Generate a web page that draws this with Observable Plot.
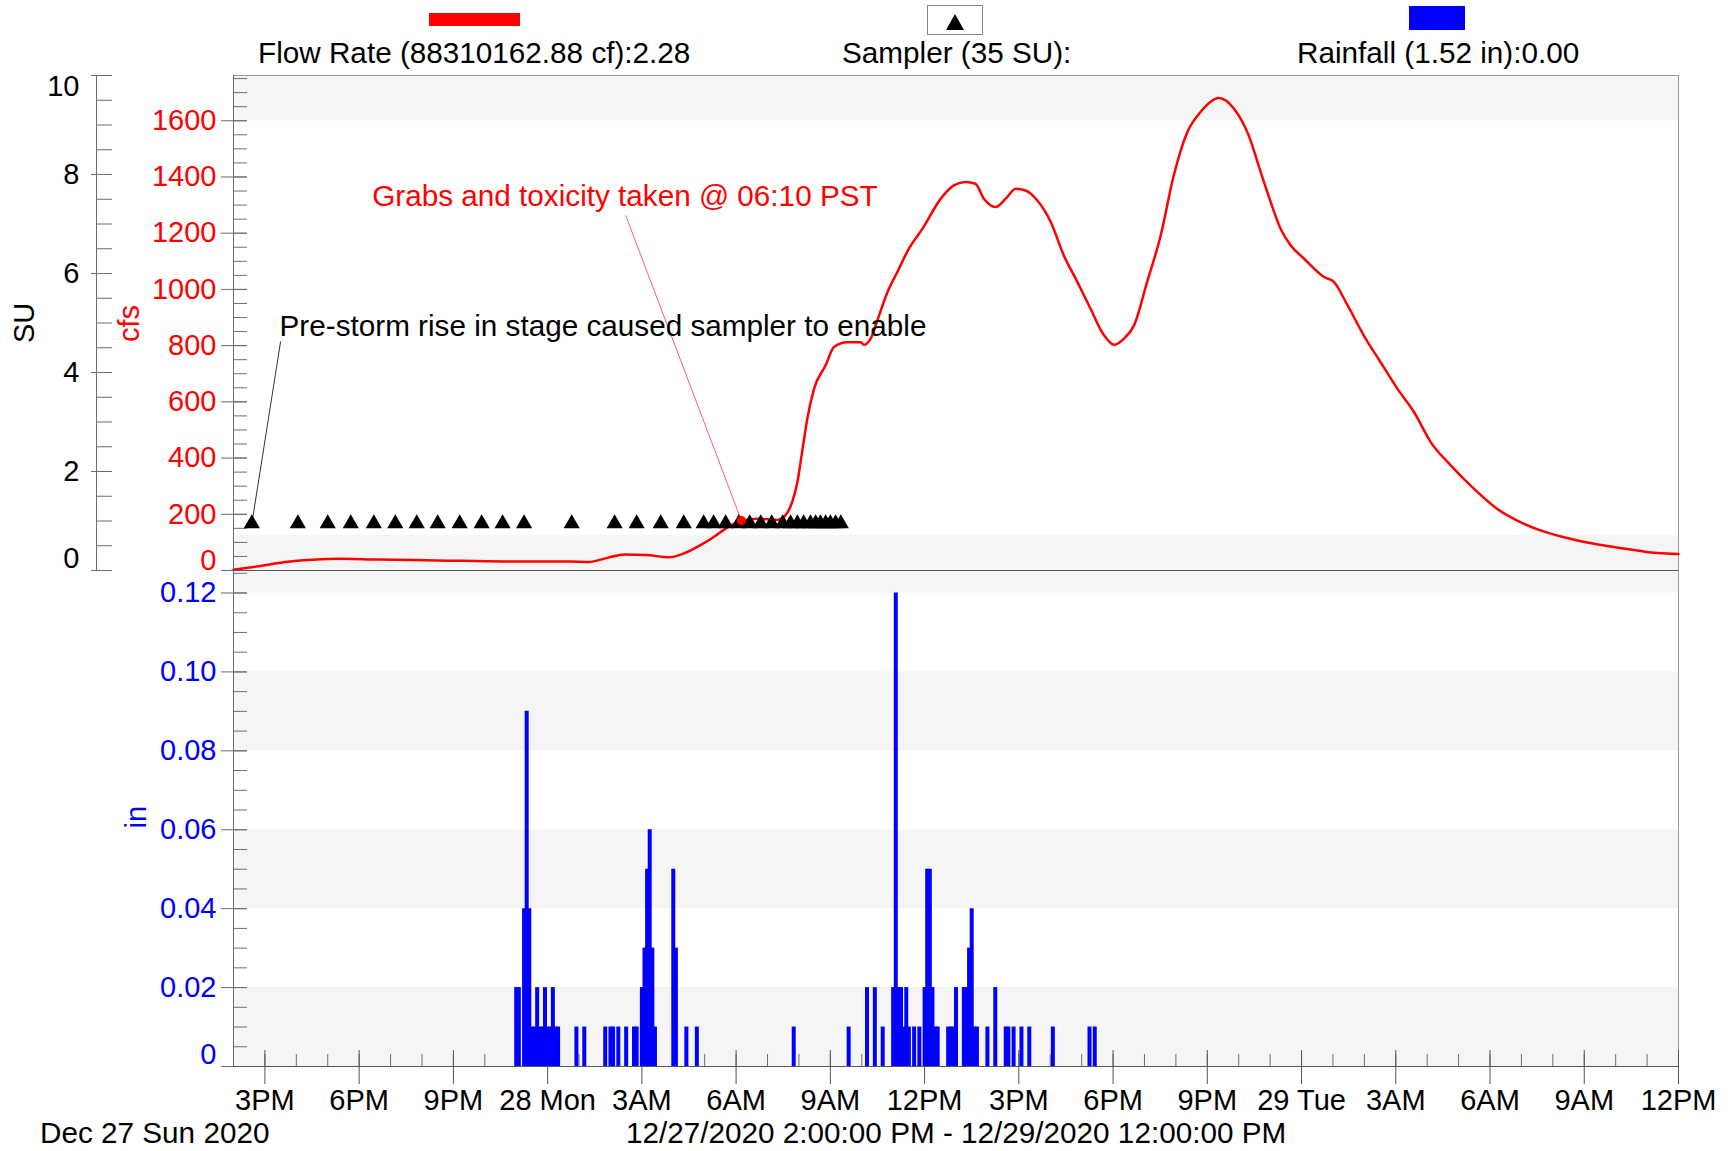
<!DOCTYPE html>
<html><head><meta charset="utf-8">
<script src="https://cdn.jsdelivr.net/npm/d3@7"></script>
<script src="https://cdn.jsdelivr.net/npm/@observablehq/plot@0.6"></script>
<style>
body{margin:0;background:#fff;font-family:"Liberation Sans",Arial,sans-serif;}
#wrap{position:relative;width:1734px;height:1151px;overflow:hidden;background:#fff;}
.t{position:absolute;font-size:29.7px;line-height:1;white-space:nowrap;color:#000;}
.pane{position:absolute;left:0;}
</style></head><body><div id="wrap"></div>
<script>
// ---------- data ----------
const flowTimes = ["2020-12-27T14:00","2020-12-27T14:48","2020-12-27T15:39","2020-12-27T16:30","2020-12-27T17:20","2020-12-27T18:36","2020-12-27T20:30","2020-12-27T22:36",
"2020-12-28T00:42","2020-12-28T01:18","2020-12-28T01:54","2020-12-28T02:27","2020-12-28T03:09","2020-12-28T03:52","2020-12-28T04:18","2020-12-28T04:52","2020-12-28T05:18","2020-12-28T05:39",
"2020-12-28T06:08","2020-12-28T06:40","2020-12-28T07:19","2020-12-28T07:34","2020-12-28T07:47","2020-12-28T07:57","2020-12-28T08:06","2020-12-28T08:16","2020-12-28T08:29","2020-12-28T08:51",
"2020-12-28T09:07","2020-12-28T09:32","2020-12-28T09:58","2020-12-28T10:04","2020-12-28T10:17","2020-12-28T10:33","2020-12-28T10:49","2020-12-28T11:08","2020-12-28T11:30","2020-12-28T11:56",
"2020-12-28T12:31","2020-12-28T12:56","2020-12-28T13:18","2020-12-28T13:37","2020-12-28T13:53","2020-12-28T14:16","2020-12-28T14:35","2020-12-28T14:54","2020-12-28T15:13","2020-12-28T15:35",
"2020-12-28T16:01","2020-12-28T16:26","2020-12-28T16:52","2020-12-28T17:17","2020-12-28T17:43","2020-12-28T18:02","2020-12-28T18:21","2020-12-28T18:40","2020-12-28T19:05","2020-12-28T19:31",
"2020-12-28T19:56","2020-12-28T20:22","2020-12-28T20:47","2020-12-28T21:22","2020-12-28T21:51","2020-12-28T22:19","2020-12-28T22:42","2020-12-28T23:01","2020-12-28T23:20","2020-12-28T23:39",
"2020-12-29T00:05","2020-12-29T00:43","2020-12-29T01:02","2020-12-29T01:28","2020-12-29T01:59","2020-12-29T02:31","2020-12-29T03:03","2020-12-29T03:35","2020-12-29T04:07","2020-12-29T04:45",
"2020-12-29T05:23","2020-12-29T06:14","2020-12-29T07:05","2020-12-29T07:56","2020-12-29T08:47","2020-12-29T09:44","2020-12-29T10:41","2020-12-29T11:19","2020-12-29T12:00"];
const flowCfs = [3,15,30,38,42,39,36,32,
32,30,45,57,55,47,59,90,120,148,
175,184,180,196,243,314,421,540,647,730,
795,812,812,803,825,907,990,1062,1145,1216,
1323,1370,1382,1376,1323,1293,1323,1358,1352,1317,
1240,1121,1026,931,836,803,825,872,1026,1192,
1406,1560,1631,1681,1643,1548,1417,1311,1216,1157,
1109,1044,1026,943,836,741,647,563,456,374,
302,219,166,131,107,87,71,62,59];

const samplerTimes = ["2020-12-27T14:35","2020-12-27T16:03","2020-12-27T17:00","2020-12-27T17:44","2020-12-27T18:28","2020-12-27T19:09","2020-12-27T19:50","2020-12-27T20:30","2020-12-27T21:12","2020-12-27T21:54","2020-12-27T22:34","2020-12-27T23:15",
"2020-12-28T00:46","2020-12-28T02:08","2020-12-28T02:50","2020-12-28T03:36","2020-12-28T04:20","2020-12-28T04:58","2020-12-28T05:17","2020-12-28T05:40","2020-12-28T06:05","2020-12-28T06:26","2020-12-28T06:47","2020-12-28T07:08",
"2020-12-28T07:29","2020-12-28T07:44","2020-12-28T07:57","2020-12-28T08:09","2020-12-28T08:22","2020-12-28T08:32","2020-12-28T08:41","2020-12-28T08:51","2020-12-28T09:00","2020-12-28T09:10","2020-12-28T09:20"];
const samplerSU = [1,1,1,1,1,1,1,1,1,1,1,1,1,1,1,1,1,1,1,1,1,1,1,1,1,1,1,1,1,1,1,1,1,1,1];

const rainTimes = ["2020-12-27T23:00","2020-12-27T23:05","2020-12-27T23:15","2020-12-27T23:20","2020-12-27T23:25","2020-12-27T23:30","2020-12-27T23:35","2020-12-27T23:40","2020-12-27T23:45","2020-12-27T23:50","2020-12-27T23:55",
"2020-12-28T00:00","2020-12-28T00:05","2020-12-28T00:10","2020-12-28T00:15","2020-12-28T00:20","2020-12-28T00:55","2020-12-28T01:10","2020-12-28T01:50","2020-12-28T02:00","2020-12-28T02:05","2020-12-28T02:15","2020-12-28T02:30","2020-12-28T02:45","2020-12-28T02:50",
"2020-12-28T03:00","2020-12-28T03:05","2020-12-28T03:10","2020-12-28T03:15","2020-12-28T03:20","2020-12-28T03:25","2020-12-28T04:00","2020-12-28T04:05","2020-12-28T04:25","2020-12-28T04:45","2020-12-28T07:50","2020-12-28T09:35",
"2020-12-28T10:10","2020-12-28T10:25","2020-12-28T10:40","2020-12-28T11:00","2020-12-28T11:05","2020-12-28T11:10","2020-12-28T11:15","2020-12-28T11:20","2020-12-28T11:25","2020-12-28T11:30","2020-12-28T11:40","2020-12-28T11:50",
"2020-12-28T12:00","2020-12-28T12:05","2020-12-28T12:10","2020-12-28T12:15","2020-12-28T12:20","2020-12-28T12:25","2020-12-28T12:45","2020-12-28T12:50","2020-12-28T12:55","2020-12-28T13:00","2020-12-28T13:15","2020-12-28T13:20",
"2020-12-28T13:25","2020-12-28T13:30","2020-12-28T13:35","2020-12-28T13:40","2020-12-28T14:00","2020-12-28T14:15","2020-12-28T14:35","2020-12-28T14:40","2020-12-28T14:50","2020-12-28T15:05","2020-12-28T15:20","2020-12-28T16:05","2020-12-28T17:15","2020-12-28T17:25"];
const rainIn = [0.02,0.02,0.04,0.09,0.04,0.01,0.01,0.02,0.01,0.01,0.02,
0.01,0.01,0.02,0.01,0.01,0.01,0.01,0.01,0.01,0.01,0.01,0.01,0.01,0.01,
0.02,0.03,0.05,0.06,0.03,0.01,0.05,0.03,0.01,0.01,0.01,0.01,
0.02,0.02,0.01,0.02,0.12,0.02,0.02,0.01,0.02,0.01,0.01,0.01,
0.02,0.05,0.05,0.02,0.01,0.01,0.01,0.01,0.01,0.02,0.02,0.02,
0.03,0.04,0.01,0.01,0.01,0.02,0.01,0.01,0.01,0.01,0.01,0.01,0.01,0.01];

const grabTimes = ["2020-12-28T06:10"];
const grabCfs = [178];

const noteTexts = ["Grabs and toxicity taken @ 06:10 PST", "Pre-storm rise in stage caused sampler to enable"];
const noteTimes = ["2020-12-27T18:25", "2020-12-27T15:28"];
const noteCfs = [1331, 868];
const leaderFrom = [["2020-12-28T02:29", 1264], ["2020-12-27T15:30", 815]];
const leaderTo = [["2020-12-28T06:10", 178], ["2020-12-27T14:37", 190]];

const cfsTicks = [0,200,400,600,800,1000,1200,1400,1600];
const suTicks = [0,2,4,6,8,10];
const inTicks = [0,0.02,0.04,0.06,0.08,0.10,0.12];
const xTickTimes = ["2020-12-27T15:00","2020-12-27T18:00","2020-12-27T21:00","2020-12-28T00:00","2020-12-28T03:00","2020-12-28T06:00","2020-12-28T09:00","2020-12-28T12:00",
"2020-12-28T15:00","2020-12-28T18:00","2020-12-28T21:00","2020-12-29T00:00","2020-12-29T03:00","2020-12-29T06:00","2020-12-29T09:00","2020-12-29T12:00"];
const xTickLabels = ["3PM","6PM","9PM","28 Mon","3AM","6AM","9AM","12PM","3PM","6PM","9PM","29 Tue","3AM","6AM","9AM","12PM"];

const legendItems = ["Flow Rate (88310162.88 cf):2.28", "Sampler (35 SU):", "Rainfall (1.52 in):0.00"];
const dateLabel = "Dec 27 Sun 2020";
const rangeLabel = "12/27/2020 2:00:00 PM - 12/29/2020 12:00:00 PM";

// ---------- setup ----------
const T = s => new Date(s);
const tStart = T("2020-12-27T14:00"), tEnd = T("2020-12-29T12:00");
const CFS_MAX = 1761, SU_MAX = 10, IN_MAX = 0.1257;
const su2cfs = v => v * CFS_MAX / SU_MAX;
const FW = 1678 - 233;
const RED = "#ff0000", BLUE = "#0000ff", AX = "#6e6e6e";
const FONT = '"Liberation Sans", Arial, sans-serif';

const flow = flowTimes.map((t, i) => ({t: T(t), v: flowCfs[i]}));
const sampler = samplerTimes.map((t, i) => ({t: T(t), v: samplerSU[i]}));
const rain = rainTimes.map((t, i) => ({t: T(t), v: rainIn[i]}));
const grabs = grabTimes.map((t, i) => ({t: T(t), v: grabCfs[i]}));
const notes = noteTexts.map((s, i) => ({text: s, t: T(noteTimes[i]), v: noteCfs[i]}));
const leaders = leaderFrom.map((f, i) => ({t1: T(f[0]), v1: f[1], t2: T(leaderTo[i][0]), v2: leaderTo[i][1]}));
const xTicks = xTickTimes.map((t, i) => ({t: T(t), label: xTickLabels[i]}));
const hourTicks = d3.timeHour.range(tStart, d3.timeHour.offset(tEnd, 1));

const cfsMinor = d3.range(0, CFS_MAX, 50);
const suMinor = d3.range(0, 10.01, 0.5);
const inMinor = d3.range(0, IN_MAX, 0.005);

const style = {fontFamily: FONT, fontSize: "29px", background: "transparent", overflow: "visible"};
const xScale = {type: "time", domain: [tStart, tEnd], axis: null};
const full = {x1: () => tStart, x2: () => tEnd};

const topBands = [[0, 125], [1600, CFS_MAX]];
const botBands = [[0, 0.02], [0.04, 0.06], [0.08, 0.10], [0.12, IN_MAX]];

const topPlot = Plot.plot({
  width: 1734, height: 495, marginTop: 0, marginBottom: 0, marginLeft: 233, marginRight: 56,
  style, x: xScale, y: {domain: [0, CFS_MAX], axis: null},
  marks: [
    Plot.rect(topBands, {...full, y1: d => d[0], y2: d => d[1], fill: "#f5f5f5"}),
    Plot.ruleY([CFS_MAX], {stroke: "#999"}),
    Plot.ruleX([tEnd], {stroke: "#999"}),
    Plot.ruleX([tStart], {stroke: AX}),
    Plot.ruleX([tStart], {dx: -137, stroke: AX}),
    Plot.tickY(cfsMinor, {y: d => d, insetRight: FW - 14, stroke: AX}),
    Plot.tickY(cfsTicks, {y: d => d, insetLeft: -12, insetRight: FW - 14, stroke: AX}),
    Plot.tickY(suMinor.map(su2cfs), {y: d => d, dx: -137, insetRight: FW - 16, stroke: AX}),
    Plot.tickY(suTicks.map(su2cfs), {y: d => d, dx: -137, insetLeft: -5, insetRight: FW - 16, stroke: AX}),
    Plot.text(cfsTicks.filter(d => d > 0), {y: d => d, text: d => String(d), frameAnchor: "left", textAnchor: "end", dx: -17, fill: RED}),
    Plot.text(cfsTicks.filter(d => d === 0), {y: d => d, text: d => String(d), frameAnchor: "left", textAnchor: "end", dx: -17, dy: -10, fill: RED}),
    Plot.text(suTicks.filter(d => d > 0 && d < 10), {y: d => su2cfs(d), text: d => String(d), frameAnchor: "left", textAnchor: "end", dx: -154, fill: "#000"}),
    Plot.text(suTicks.filter(d => d === 10), {y: d => su2cfs(d), text: d => String(d), frameAnchor: "left", textAnchor: "end", dx: -154, dy: 11, fill: "#000"}),
    Plot.text(suTicks.filter(d => d === 0), {y: d => su2cfs(d), text: d => String(d), frameAnchor: "left", textAnchor: "end", dx: -154, dy: -12, fill: "#000"}),
    Plot.text(["SU"], {frameAnchor: "left", dx: -209, dy: 20, rotate: -90, fill: "#000"}),
    Plot.text(["cfs"], {frameAnchor: "left", dx: -104, dy: 19, rotate: -90, fill: RED}),
    Plot.line(flow, {x: "t", y: "v", stroke: RED, strokeWidth: 2.5, curve: "monotone-x"}),
    Plot.link(leaders.slice(0, 1), {x1: "t1", y1: "v1", x2: "t2", y2: "v2", stroke: "#ff5a7a", strokeWidth: 1}),
    Plot.link(leaders.slice(1, 2), {x1: "t1", y1: "v1", x2: "t2", y2: "v2", stroke: "#333", strokeWidth: 1}),
    Plot.dot(sampler, {x: "t", y: d => su2cfs(d.v), symbol: "triangle", r: 6, fill: "#000", dy: 2.5}),
    Plot.dot(grabs, {x: "t", y: "v", r: 4.5, fill: RED}),
    Plot.text(notes.slice(0, 1), {x: "t", y: "v", text: "text", textAnchor: "start", fill: RED, fontSize: 29.7}),
    Plot.text(notes.slice(1, 2), {x: "t", y: "v", text: "text", textAnchor: "start", fill: "#000", fontSize: 29.7})
  ]
});

const FH = 496;
const botPlot = Plot.plot({
  width: 1734, height: 581, marginTop: 0, marginBottom: 85, marginLeft: 233, marginRight: 56,
  style, x: xScale, y: {domain: [0, IN_MAX], axis: null},
  marks: [
    Plot.rect(botBands, {...full, y1: d => d[0], y2: d => d[1], fill: "#f5f5f5"}),
    Plot.ruleX([tEnd], {stroke: "#999"}),
    Plot.ruleX([tStart], {stroke: AX}),
    Plot.tickY(inMinor, {y: d => d, insetRight: FW - 14, stroke: AX}),
    Plot.tickY(inTicks, {y: d => d, insetLeft: -12, insetRight: FW - 14, stroke: AX}),
    Plot.text(inTicks.filter(d => d > 0), {y: d => d, text: d => d.toFixed(2), frameAnchor: "left", textAnchor: "end", dx: -17, fill: BLUE}),
    Plot.text(inTicks.filter(d => d === 0), {y: d => d, text: d => "0", frameAnchor: "left", textAnchor: "end", dx: -17, dy: -12, fill: BLUE}),
    Plot.text(["in"], {frameAnchor: "left", dx: -97, dy: 10, rotate: -90, fill: BLUE}),
    Plot.tickX(hourTicks, {x: d => d, insetTop: FH - 12, stroke: AX}),
    Plot.tickX(xTicks, {x: "t", insetTop: FH - 16, insetBottom: -18, stroke: "#555"}),
    Plot.text(xTicks, {x: "t", text: "label", frameAnchor: "bottom", dy: 43, fill: "#000"}),
    Plot.ruleX(rain, {x: "t", y1: 0, y2: "v", stroke: BLUE, strokeWidth: 4}),
    Plot.ruleY([IN_MAX], {stroke: "#555"}),
    Plot.ruleY([0], {stroke: "#555"})
  ]
});

// ---------- layout ----------
const wrap = document.getElementById("wrap");
function add(el, css) { Object.assign(el.style, css); wrap.appendChild(el); return el; }
function txt(s, left, top, color) { const d = document.createElement("div"); d.className = "t"; d.textContent = s; return add(d, {left: left + "px", top: top + "px", color: color || "#000"}); }

const p1 = document.createElement("div"); p1.className = "pane"; p1.appendChild(topPlot); add(p1, {top: "75px"});
const p2 = document.createElement("div"); p2.className = "pane"; p2.appendChild(botPlot); add(p2, {top: "570px"});

// legend
add(document.createElement("div"), {position: "absolute", left: "429px", top: "13px", width: "91px", height: "13px", background: RED});
const sw = document.createElement("div");
sw.innerHTML = '<svg width="56" height="30"><rect x="0.5" y="0.5" width="55" height="29" fill="#fff" stroke="#888"/><path d="M28,9 L37,25 L19,25 Z" fill="#000"/></svg>';
add(sw, {position: "absolute", left: "927px", top: "5px", width: "56px", height: "30px"});
add(document.createElement("div"), {position: "absolute", left: "1409px", top: "6px", width: "56px", height: "24px", background: BLUE});
txt(legendItems[0], 258, 38);
txt(legendItems[1], 842, 38);
txt(legendItems[2], 1297, 38);

// bottom captions
txt(dateLabel, 40, 1118);
txt(rangeLabel, 626, 1118);
</script></body></html>
